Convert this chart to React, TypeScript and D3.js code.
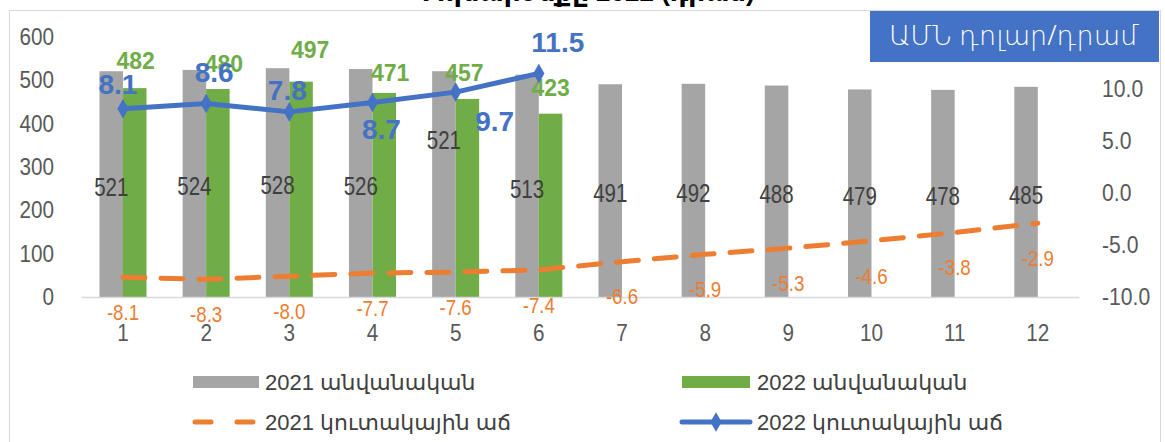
import React from "react";
import * as d3 from "d3";

const months = ["1", "2", "3", "4", "5", "6", "7", "8", "9", "10", "11", "12"];
const nominal2021 = [521, 524, 528, 526, 521, 513, 491, 492, 488, 479, 478, 485];
const nominal2022 = [482, 480, 497, 471, 457, 423];
const growth2021 = [-8.1, -8.3, -8.0, -7.7, -7.6, -7.4, -6.6, -5.9, -5.3, -4.6, -3.8, -2.9];
const growth2022 = [8.1, 8.6, 7.8, 8.7, 9.7, 11.5];
const leftTicks = [0, 100, 200, 300, 400, 500, 600];
const rightTicks = [-10, -5, 0, 5, 10];

const seriesNames = ["2021 անվանական", "2022 անվանական", "2021 կուտակային աճ", "2022 կուտակային աճ"];
const unitLabel = "ԱՄՆ դոլար/դրամ";
const titleText = "Փոխարժեքը 2022 (դրամ)";

// label nudges (layout only, pixels)
const greenLabelDy = [-27, -25, -32, -20, -26, -26];
const greenLabelDx = [1, 6, 9, 6, -3, 0];
const blueLabelPos = [
  [-5, -25],
  [8, -31],
  [-2, -22],
  [9, 27],
  [39, 29],
  [19, -31],
];
const grayLabelDy = [0, 0, 0, 0, -47, 0, 0, 0, 0, 0, 0, 0];

const GRAY = "#A5A5A5";
const GREEN = "#70AD47";
const ORANGE = "#ED7D31";
const BLUE = "#4472C4";
const TXT = "#404040";
const AX = "#595959";
const SANS = "'Liberation Sans', 'DejaVu Sans', sans-serif";

function NText(props: {
  x: number;
  y: number;
  size: number;
  fill: string;
  anchor?: string;
  sx?: number;
  weight?: string;
  children: React.ReactNode;
}) {
  const sx = props.sx ?? 0.86;
  return (
    <text
      transform={`translate(${props.x},${props.y}) scale(${sx},1)`}
      dy="0.35em"
      textAnchor={props.anchor ?? "middle"}
      fontFamily={SANS}
      fontSize={props.size}
      fontWeight={props.weight ?? "normal"}
      fill={props.fill}
    >
      {props.children}
    </text>
  );
}

export default function App() {
  const W = 1165;
  const H = 442;
  const x = d3.scaleBand().domain(months).range([81.4, 1079.4]).padding(0);
  const cx = (i: number) => (x(months[i]) as number) + x.bandwidth() / 2;
  const yL = d3.scaleLinear().domain([0, 600]).range([297, 37]);
  const yR = d3.scaleLinear().domain([-10, 15]).range([297, 37]);
  const bw = 23.5;

  const orangeLine = d3
    .line<number>()
    .x((_, i) => cx(i))
    .y((d) => yR(d));
  const blueLine = d3
    .line<number>()
    .x((_, i) => cx(i))
    .y((d) => yR(d));
  const diamond = d3.symbol().type(d3.symbolDiamond).size(110)();

  return (
    <svg
      width={W}
      height={H}
      style={{ position: "absolute", left: 0, top: 0, background: "#fff" }}
    >
      <rect x={0} y={0} width={W} height={H} fill="#fff" />
      <text x={585} y={1} textAnchor="middle" fontFamily={SANS} fontWeight="bold" fontSize={26} fill="#000">
        {titleText}
      </text>
      <rect x={9.5} y={10.5} width={1151} height={440} fill="none" stroke="#D9D9D9" strokeWidth={1} />

      {/* unit box */}
      <rect x={870} y={11} width={289} height={51} fill={BLUE} />
      <text x={1014} y={45} textAnchor="middle" fontFamily={"'Noto Sans', 'DejaVu Sans', sans-serif"} fontSize={27} fontWeight={300} fill="#fff">
        {unitLabel}
      </text>

      {/* left axis labels */}
      {leftTicks.map((t) => (
        <NText key={"l" + t} x={54} y={yL(t)} anchor="end" size={23} fill={AX} sx={0.9}>
          {t}
        </NText>
      ))}
      {/* right axis labels */}
      {rightTicks.map((t) => (
        <NText key={"r" + t} x={1102} y={yR(t)} anchor="start" size={23} fill={AX} sx={0.92}>
          {t.toFixed(1)}
        </NText>
      ))}

      {/* bars */}
      {nominal2021.map((v, i) => (
        <rect key={"g" + i} x={cx(i) - bw} y={yL(v)} width={bw} height={yL(0) - yL(v)} fill={GRAY} />
      ))}
      {nominal2022.map((v, i) => (
        <rect key={"n" + i} x={cx(i)} y={yL(v)} width={bw} height={yL(0) - yL(v)} fill={GREEN} />
      ))}

      {/* x axis */}
      <line x1={81.4} x2={1079.4} y1={297.5} y2={297.5} stroke="#D9D9D9" strokeWidth={1.5} />
      {months.map((m, i) => (
        <NText key={"x" + m} x={cx(i)} y={333} size={23} fill={AX} sx={0.9}>
          {m}
        </NText>
      ))}

      {/* gray labels */}
      {nominal2021.map((v, i) => (
        <NText key={"gl" + i} x={cx(i) - bw / 2} y={(yL(v) + yL(0)) / 2 + 3 + grayLabelDy[i]} size={25} fill={TXT} sx={0.82}>
          {v}
        </NText>
      ))}

      {/* orange dashed line */}
      <path
        d={orangeLine(growth2021) as string}
        fill="none"
        stroke={ORANGE}
        strokeWidth={5}
        strokeDasharray="22 16"
        strokeLinecap="round"
      />
      {growth2021.map((v, i) => (
        <NText key={"ol" + i} x={cx(i)} y={yR(v) + 35} size={22} fill={ORANGE} sx={0.85}>
          {v.toFixed(1)}
        </NText>
      ))}

      {/* green labels */}
      {nominal2022.map((v, i) => (
        <text
          key={"nl" + i}
          x={cx(i) + bw / 2 + greenLabelDx[i]}
          y={yL(v) + greenLabelDy[i]}
          dy="0.35em"
          textAnchor="middle"
          fontFamily={SANS}
          fontWeight="bold"
          fontSize={23}
          fill={GREEN}
        >
          {v}
        </text>
      ))}

      {/* blue line */}
      <path d={blueLine(growth2022) as string} fill="none" stroke={BLUE} strokeWidth={5} strokeLinejoin="round" />
      {growth2022.map((v, i) => (
        <path key={"bd" + i} d={diamond as string} transform={`translate(${cx(i)},${yR(v)})`} fill={BLUE} />
      ))}
      {growth2022.map((v, i) => (
        <text
          key={"bl" + i}
          x={cx(i) + blueLabelPos[i][0]}
          y={yR(v) + blueLabelPos[i][1]}
          dy="0.35em"
          textAnchor="middle"
          fontFamily={SANS}
          fontWeight="bold"
          fontSize={28}
          fill={BLUE}
        >
          {v.toFixed(1)}
        </text>
      ))}

      {/* legend */}
      <rect x={193} y={376} width={66} height={12} fill={GRAY} />
      <text x={265} y={382} dy="0.35em" fontFamily={SANS} fontSize={22} fill={TXT}>
        {seriesNames[0]}
      </text>
      <rect x={682} y={376} width={68} height={12} fill={GREEN} />
      <text x={757} y={382} dy="0.35em" fontFamily={SANS} fontSize={22} fill={TXT}>
        {seriesNames[1]}
      </text>
      <line x1={195} x2={256} y1={422} y2={422} stroke={ORANGE} strokeWidth={5} strokeDasharray="16 26" strokeLinecap="round" />
      <text x={265} y={422} dy="0.35em" fontFamily={SANS} fontSize={22} fill={TXT}>
        {seriesNames[2]}
      </text>
      <line x1={682} x2={750} y1={422} y2={422} stroke={BLUE} strokeWidth={5} strokeLinecap="round" />
      <path d={diamond as string} transform="translate(716,422)" fill={BLUE} />
      <text x={757} y={422} dy="0.35em" fontFamily={SANS} fontSize={22} fill={TXT}>
        {seriesNames[3]}
      </text>
    </svg>
  );
}
